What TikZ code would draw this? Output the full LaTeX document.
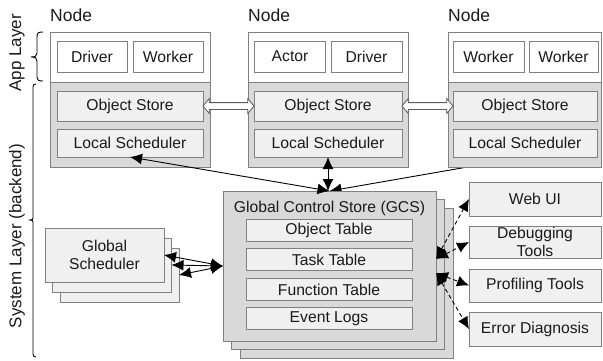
\documentclass[tikz,border=0pt]{standalone}
\usepackage{fontspec}
\setmainfont{Liberation Sans}
\usetikzlibrary{arrows.meta,shapes.arrows,calc,backgrounds}
\definecolor{bord}{HTML}{808080}
\definecolor{sysgray}{HTML}{D9D9D9}
\definecolor{light}{HTML}{F0F0F0}
\definecolor{txt}{HTML}{1A1A1A}
\tikzset{
  base/.style={draw=bord, line width=0.9pt, inner sep=0pt, outer sep=0pt, text=txt,
    font=\fontsize{15.7}{18.5}\selectfont, align=center},
  appbox/.style={base, fill=white},
  sysbox/.style={base, fill=sysgray},
  litbox/.style={base, fill=light},
  wh/.style 2 args={minimum width=#1pt, minimum height=#2pt},
  nodelabel/.style={anchor=base west, inner sep=0pt, text=txt, font=\fontsize{17.5}{20}\selectfont},
  sidelabel/.style={rotate=90, inner sep=0pt, text=txt, font=\fontsize{17}{20}\selectfont},
  conn/.style={line width=0.9pt, black},
  bracepath/.style={line width=0.9pt, black},
  dblarrow/.style={double arrow, draw=bord!70!black, fill=white, line width=0.8pt,
    minimum height=51pt, inner xsep=0pt, inner ysep=3pt,
    double arrow head extend=4pt, double arrow tip angle=100},
  >={Latex[length=12pt,width=11pt]}
}
\begin{document}
\begin{tikzpicture}[x=1pt,y=-1pt]
\useasboundingbox (0,0) rectangle (603,360);

% ---------- Node 1 ----------
\node[nodelabel] (lab1) at (50,21) {Node};
\node[appbox, wh={160}{50}] (n1a) at (130,57) {};
\node[sysbox, wh={160}{85}] (n1s) at (130,124.5) {};
\node[appbox, wh={70}{31}] (drv1) at (92,56.5) {Driver};
\node[appbox, wh={70}{31}] (wrk1) at (168,56.5) {Worker};
\node[litbox, wh={146}{30}] (os1) at (130,106) {Object Store};
\node[litbox, wh={146}{28}] (ls1) at (130,143) {Local Scheduler};

% ---------- Node 2 ----------
\node[nodelabel] (lab2) at (248,21) {Node};
\node[appbox, wh={160}{50}] (n2a) at (328,57) {};
\node[sysbox, wh={160}{85}] (n2s) at (328,124.5) {};
\node[appbox, wh={71}{31}] (act2) at (290,56.5) {Actor};
\node[appbox, wh={71}{31}] (drv2) at (366.5,56.5) {Driver};
\node[litbox, wh={148}{30}] (os2) at (328,106) {Object Store};
\node[litbox, wh={148}{28}] (ls2) at (328,143) {Local Scheduler};

% ---------- Node 3 ----------
\node[nodelabel] (lab3) at (448,21) {Node};
\node[appbox, wh={153}{50}] (n3a) at (524.5,57) {};
\node[sysbox, wh={153}{85}] (n3s) at (524.5,124.5) {};
\node[appbox, wh={71}{31}] (wrk3a) at (488.5,56.5) {Worker};
\node[appbox, wh={69}{31}] (wrk3b) at (563.5,56.5) {Worker};
\node[litbox, wh={144}{30}] (os3) at (525,106) {Object Store};
\node[litbox, wh={144}{28}] (ls3) at (525,143) {Local Scheduler};

% ---------- hollow double arrows ----------
\node[dblarrow] (da1) at ($(os1.east)!0.5!(os2.west)$) {};
\node[dblarrow] (da2) at ($(os2.east)!0.5!(os3.west)$) {};

% ---------- Global Scheduler stack ----------
\node[litbox, wh={119}{54}] (gsC) at (119.5,275) {};
\node[litbox, wh={119}{54}] (gsB) at (112,265) {};
\node[litbox, wh={119}{54}] (gsA) at (104.5,255) {Global\\Scheduler};

% ---------- GCS stack ----------
\node[sysbox, wh={213}{150}] (gcsC) at (346.5,283) {};
\node[sysbox, wh={213}{150}] (gcsB) at (338,274.5) {};
\node[sysbox, wh={213}{150}] (gcs) at (329.5,266) {};
\node[inner sep=0pt, text=txt, font=\fontsize{15.7}{18.5}\selectfont] (gcst) at (329.5,208) {Global Control Store (GCS)};
\node[litbox, wh={166}{21.5}] (t1) at (329,230.5) {Object Table};
\node[litbox, wh={166}{21.5}] (t2) at (329,259.5) {Task Table};
\node[litbox, wh={166}{21.5}] (t3) at (329,289.5) {Function Table};
\node[litbox, wh={166}{21.5}] (t4) at (329,318.5) {Event Logs};

% ---------- Tools ----------
\node[litbox, wh={132}{34}] (web) at (535,199) {Web UI};
\node[litbox, wh={132}{32}] (dbg) at (535,242) {Debugging\\[-1pt]Tools};
\node[litbox, wh={132}{33}] (prof) at (535,285.5) {Profiling Tools};
\node[litbox, wh={132}{34}] (err) at (535,329) {Error Diagnosis};

% ---------- connectors ----------
\begin{scope}[on background layer]
  \draw[conn,->] (ls3.south) -- (gcs.north);
\end{scope}
\draw[conn,<->] (ls1.south) -- (gcs.north);
\draw[conn,<->] (ls2.south) -- (ls2.south |- gcs.north);

\draw[conn,<->] (gsA.east) -- (gcs.west);
\draw[conn,<->] (gsB.east) -- (gcs.west);
\draw[conn,<->] (gsC.east) -- (gcs.west);

\coordinate (gU) at ($(gcs.east)+(0,-7)$);
\coordinate (gD) at ($(gcs.east)+(0,7)$);
\draw[conn,dashed,dash pattern=on 4pt off 3pt,<->] (gU) -- (web.west);
\draw[conn,dashed,dash pattern=on 4pt off 3pt,<->] (gU) -- (dbg.west);
\draw[conn,dashed,dash pattern=on 4pt off 3pt,<->] (gD) -- (prof.west);
\draw[conn,dashed,dash pattern=on 4pt off 3pt,<->] (gD) -- (err.west);

% ---------- braces and side labels ----------
\draw[bracepath] (43,32) .. controls (38,32) and (37,33) .. (37,37) -- (37,53)
  .. controls (37,56) and (35,57) .. (31,57) .. controls (35,57) and (37,58) .. (37,61)
  -- (37,77) .. controls (37,80) and (38,81) .. (43,81);
\draw[bracepath] (36,84) .. controls (34,84) and (33,85) .. (33,87) -- (33,218)
  .. controls (33,219.5) and (32,220) .. (30,220) .. controls (32,220) and (33,220.5) .. (33,222)
  -- (33,354) .. controls (33,356) and (34,357) .. (36,357);
\node[sidelabel] (applab) at (17,53) {App Layer};
\node[sidelabel] (syslab) at (17,236) {System Layer (backend)};
\end{tikzpicture}
\end{document}
